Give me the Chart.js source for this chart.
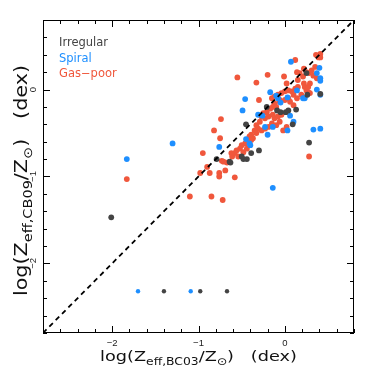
<!DOCTYPE html>
<html>
<head>
<meta charset="utf-8">
<script src="https://cdn.jsdelivr.net/npm/chart.js@4/dist/chart.umd.min.js"></script>
<style>
  body { margin: 0; background: #fff; }
</style>
</head>
<body>
<canvas id="chart" width="374" height="374"></canvas>
<script>
// axis range and ticks (same on both axes)
const AXIS_MIN = -2.8;
const AXIS_MAX = 0.8;
const MINOR_STEP = 0.2;
const TICK_VALUES = [-2, -1, 0];
const TICK_LABELS = ["\u22122", "\u22121", "0"];

const LEGEND_NAMES = ["Irregular", "Spiral", "Gas\u2212poor"];

// [log Z BC03, log Z CB09]
const irregular = [
  [-2.01, -1.47], [-1.40, -2.32], [-0.98, -2.32], [-0.67, -2.32],
  [-0.79, -0.80], [-0.63, -0.84], [-0.48, -0.80], [-0.44, -0.80],
  [-0.39, -0.73], [-0.30, -0.70], [-0.45, -0.40], [-0.21, -0.20],
  [-0.09, -0.24], [-0.05, -0.26], [0.01, -0.26], [0.13, -0.23],
  [0.09, -0.40], [0.28, -0.61], [0.41, -0.05], [0.25, 0.19],
  [0.26, -0.06], [-0.50, -0.77], [-0.64, -0.83], [0.04, -0.24]
];

const spiral = [
  [-1.83, -0.80], [-1.30, -0.62], [-1.70, -2.32], [-1.09, -2.32],
  [-0.76, -0.66], [-0.40, -0.64], [-0.45, -0.57], [-0.49, -0.24],
  [-0.46, -0.11], [-0.31, -0.29], [-0.26, -0.30], [-0.20, -0.52],
  [-0.17, -0.03], [-0.14, -1.13], [-0.05, -0.15], [0.03, -0.09],
  [0.06, -0.30], [0.10, -0.37], [0.03, -0.47], [0.14, -0.01],
  [0.21, -0.10], [0.07, 0.32], [0.37, 0.00], [0.40, 0.25],
  [0.41, 0.13], [0.41, 0.10], [0.33, -0.46], [0.41, -0.45],
  [0.37, 0.19], [-0.10, -0.07], [-0.08, -0.10], [0.23, -0.10],
  [0.41, -0.06], [-0.14, -0.43], [-0.23, -0.43], [-0.41, -0.62]
];

const gasPoor = [
  [-1.83, -1.03], [-1.10, -1.23], [-0.85, -1.23], [-0.72, -1.27],
  [-0.98, -0.96], [-0.87, -0.96], [-0.76, -0.96], [-0.76, -1.00],
  [-0.69, -0.93], [-0.58, -1.01], [-0.90, -0.89], [-0.95, -0.73],
  [-0.74, -0.34], [-0.82, -0.47], [-0.75, -0.56], [-0.73, -0.82],
  [-0.71, -0.83], [-0.67, -0.84], [-0.61, -0.77], [0.28, -0.77],
  [-0.55, 0.14], [-0.33, 0.08], [-0.20, 0.17], [-0.01, 0.15],
  [0.12, 0.34], [-0.30, -0.12], [0.36, 0.40], [0.41, 0.41],
  [0.41, 0.37], [0.39, 0.37], [0.22, 0.24], [0.25, 0.20],
  [0.17, 0.19], [0.15, 0.11], [0.28, 0.19], [0.37, 0.13],
  [0.31, 0.22], [0.35, 0.26], [0.22, 0.07], [0.27, -0.03],
  [-0.33, -0.50], [-0.39, -0.52], [-0.37, -0.56],
  [-0.15, -0.10], [-0.12, -0.08], [-0.08, -0.06], [-0.04, -0.04],
  [0.00, -0.02], [0.04, -0.01], [0.08, -0.02], [0.12, 0.01],
  [0.15, 0.03], [0.23, 0.03], [0.25, -0.01], [0.29, -0.04],
  [0.19, -0.06], [0.14, -0.10], [0.10, -0.06], [0.04, -0.10],
  [0.00, -0.12], [-0.06, -0.14], [-0.12, -0.16], [-0.14, -0.20],
  [-0.17, -0.22], [-0.21, -0.26], [-0.25, -0.27], [-0.27, -0.31],
  [-0.23, -0.33], [-0.19, -0.31], [-0.14, -0.29], [-0.12, -0.33],
  [-0.08, -0.31], [-0.04, -0.29], [-0.06, -0.37], [-0.10, -0.41],
  [-0.15, -0.39], [-0.19, -0.43], [-0.23, -0.45], [-0.27, -0.47],
  [-0.31, -0.45], [-0.41, -0.54], [-0.39, -0.58], [-0.42, -0.60],
  [-0.46, -0.62], [-0.50, -0.64], [-0.52, -0.68], [-0.56, -0.70],
  [-0.58, -0.73], [-0.62, -0.73], [-0.54, -0.77], [-0.48, -0.72],
  [-0.44, -0.68], [-0.35, -0.47], [-0.29, -0.37], [-0.33, -0.41],
  [0.02, -0.43], [-0.02, -0.47], [0.14, 0.20], [0.21, 0.15],
  [0.29, 0.07], [0.27, 0.03], [0.06, -0.14], [0.10, -0.18],
  [-0.10, -0.20], [0.33, 0.16], [0.02, 0.07], [-0.06, -0.12]
];

const COLOR_IRR = "#444444";
const COLOR_SPI = "#1e8fff";
const COLOR_GAS = "#f0573c";

function toPoints(arr) {
  return arr.map(([x, y]) => ({ x, y }));
}

function pointSize(ctx) {
  // the row of points at the bottom is drawn smaller
  return ctx.raw && ctx.raw.y < -2 ? 2.2 : 2.9;
}

// text with subscripts, centred on the current origin, stretched sideways
function drawRich(ctx, parts, size, stretch) {
  const fontFor = (p) => (p.sub ? size * 0.7 : size) + "px 'DejaVu Sans'";
  let total = 0;
  parts.forEach((p) => {
    ctx.font = fontFor(p);
    total += ctx.measureText(p.t).width;
  });
  ctx.scale(stretch, 1);
  let x = -total / 2;
  parts.forEach((p) => {
    ctx.font = fontFor(p);
    ctx.fillText(p.t, x, p.sub ? size * 0.28 : 0);
    x += ctx.measureText(p.t).width;
  });
}

const framePlugin = {
  id: "frame",
  afterDraw(chart) {
    const { ctx, chartArea: a, scales } = chart;
    const sx = scales.x, sy = scales.y;
    ctx.save();
    ctx.strokeStyle = "#000";
    ctx.lineWidth = 1;
    ctx.strokeRect(a.left + 0.5, a.top + 0.5, a.right - a.left - 1, a.bottom - a.top - 1);

    ctx.beginPath();
    for (let v = AXIS_MIN; v <= AXIS_MAX + 1e-6; v += MINOR_STEP) {
      const major = Math.abs(v - Math.round(v)) < 1e-6;
      const len = major ? 7 : 4;
      const px = Math.round(sx.getPixelForValue(v)) + 0.5;
      const py = Math.round(sy.getPixelForValue(v)) + 0.5;
      ctx.moveTo(px, a.bottom); ctx.lineTo(px, a.bottom - len);
      ctx.moveTo(px, a.top); ctx.lineTo(px, a.top + len);
      ctx.moveTo(a.left, py); ctx.lineTo(a.left + len, py);
      ctx.moveTo(a.right, py); ctx.lineTo(a.right - len, py);
    }
    ctx.stroke();

    // tick labels
    ctx.fillStyle = "#222";
    ctx.font = "9.5px 'Liberation Sans'";
    ctx.textAlign = "center";
    ctx.textBaseline = "middle";
    TICK_VALUES.forEach((v, i) => {
      ctx.fillText(TICK_LABELS[i], sx.getPixelForValue(v), a.bottom + 10);
      ctx.save();
      ctx.translate(a.left - 10, sy.getPixelForValue(v));
      ctx.rotate(-Math.PI / 2);
      ctx.fillText(TICK_LABELS[i], 0, 0);
      ctx.restore();
    });

    // axis titles
    ctx.fillStyle = "#111";
    ctx.textAlign = "left";
    ctx.textBaseline = "alphabetic";
    ctx.save();
    ctx.translate((a.left + a.right) / 2, 361);
    drawRich(ctx, [
      { t: "log(Z" }, { t: "eff,BC03", sub: true }, { t: "/Z" },
      { t: "\u2299", sub: true }, { t: ")   (dex)" }
    ], 14.5, 1.22);
    ctx.restore();
    ctx.save();
    ctx.translate(27, (a.top + a.bottom) / 2 + 4);
    ctx.rotate(-Math.PI / 2);
    drawRich(ctx, [
      { t: "log(Z" }, { t: "eff,CB09", sub: true }, { t: "/Z" },
      { t: "\u2299", sub: true }, { t: ")   (dex)" }
    ], 17, 1.22);
    ctx.restore();

    // legend text
    ctx.font = "11.5px 'DejaVu Sans'";
    const legendColors = [COLOR_IRR, COLOR_SPI, COLOR_GAS];
    LEGEND_NAMES.forEach((name, i) => {
      ctx.fillStyle = legendColors[i];
      ctx.fillText(name, a.left + 16, a.top + 26 + i * 15.5);
    });
    ctx.restore();
  }
};

new Chart(document.getElementById("chart"), {
  type: "scatter",
  data: {
    datasets: [
      {
        label: "1:1",
        data: [{ x: AXIS_MIN, y: AXIS_MIN }, { x: AXIS_MAX, y: AXIS_MAX }],
        showLine: true,
        borderColor: "#000",
        borderWidth: 1.8,
        borderDash: [5, 4],
        pointRadius: 0,
        order: 0,
      },
      {
        label: LEGEND_NAMES[0],
        data: toPoints(irregular),
        backgroundColor: COLOR_IRR,
        borderWidth: 0,
        pointRadius: pointSize,
        order: 1,
      },
      {
        label: LEGEND_NAMES[1],
        data: toPoints(spiral),
        backgroundColor: COLOR_SPI,
        borderWidth: 0,
        pointRadius: pointSize,
        order: 2,
      },
      {
        label: LEGEND_NAMES[2],
        data: toPoints(gasPoor),
        backgroundColor: COLOR_GAS,
        borderWidth: 0,
        pointRadius: pointSize,
        order: 3,
      },
    ],
  },
  options: {
    responsive: false,
    animation: false,
    layout: { padding: { left: 43, top: 20, right: 20, bottom: 41 } },
    plugins: { legend: { display: false }, tooltip: { enabled: false } },
    scales: {
      x: { type: "linear", min: AXIS_MIN, max: AXIS_MAX, display: false },
      y: { type: "linear", min: AXIS_MIN, max: AXIS_MAX, display: false },
    },
  },
  plugins: [framePlugin],
});
</script>
</body>
</html>
